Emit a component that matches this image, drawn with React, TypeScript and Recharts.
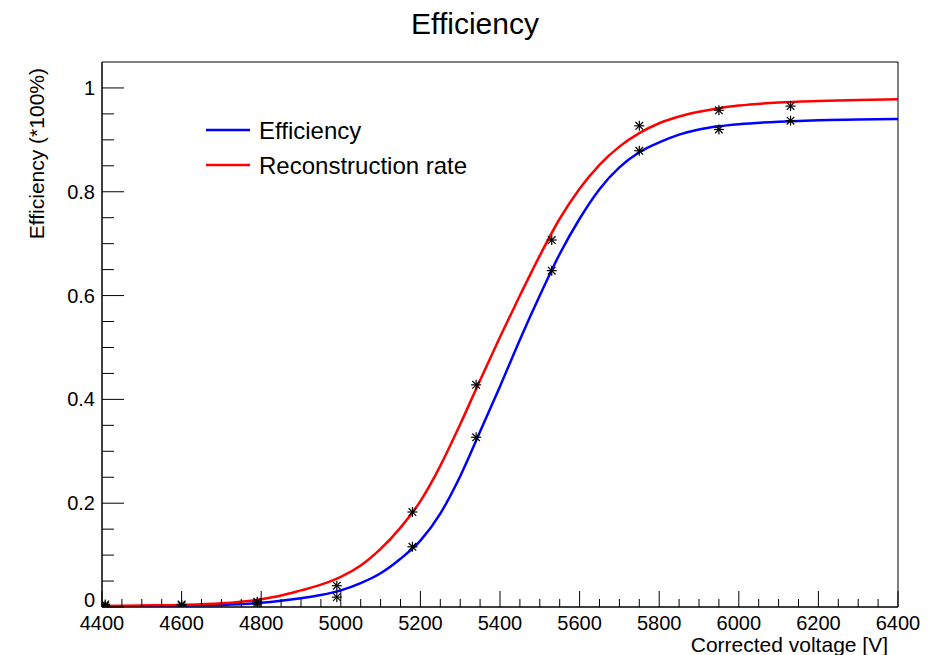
import { ComposedChart, Line, Scatter, XAxis, YAxis, ReferenceArea } from 'recharts';

// fitted curves
const effCurve = [
  { v: 4500, y: 0.002 }, { v: 4600, y: 0.003 }, { v: 4700, y: 0.004 }, { v: 4800, y: 0.008 },
  { v: 4850, y: 0.012 }, { v: 4900, y: 0.017 }, { v: 4950, y: 0.023 }, { v: 5000, y: 0.032 },
  { v: 5050, y: 0.046 }, { v: 5100, y: 0.065 }, { v: 5150, y: 0.093 }, { v: 5200, y: 0.128 },
  { v: 5250, y: 0.18 }, { v: 5300, y: 0.252 }, { v: 5350, y: 0.338 }, { v: 5400, y: 0.425 },
  { v: 5450, y: 0.515 }, { v: 5500, y: 0.6 }, { v: 5550, y: 0.68 }, { v: 5600, y: 0.748 },
  { v: 5650, y: 0.805 }, { v: 5700, y: 0.847 }, { v: 5750, y: 0.876 }, { v: 5800, y: 0.895 },
  { v: 5850, y: 0.91 }, { v: 5900, y: 0.92 }, { v: 5950, y: 0.926 }, { v: 6000, y: 0.93 },
  { v: 6100, y: 0.935 }, { v: 6200, y: 0.938 }, { v: 6300, y: 0.939 }, { v: 6400, y: 0.94 },
];

const recoCurve = [
  { v: 4400, y: 0.002 }, { v: 4500, y: 0.003 }, { v: 4600, y: 0.004 }, { v: 4700, y: 0.007 },
  { v: 4800, y: 0.015 }, { v: 4850, y: 0.022 }, { v: 4900, y: 0.032 }, { v: 4950, y: 0.043 },
  { v: 5000, y: 0.058 }, { v: 5050, y: 0.08 }, { v: 5100, y: 0.112 }, { v: 5150, y: 0.153 },
  { v: 5200, y: 0.204 }, { v: 5250, y: 0.272 }, { v: 5300, y: 0.352 }, { v: 5350, y: 0.437 },
  { v: 5400, y: 0.52 }, { v: 5450, y: 0.6 }, { v: 5500, y: 0.677 }, { v: 5550, y: 0.748 },
  { v: 5600, y: 0.806 }, { v: 5650, y: 0.852 }, { v: 5700, y: 0.887 }, { v: 5750, y: 0.913 },
  { v: 5800, y: 0.932 }, { v: 5850, y: 0.945 }, { v: 5900, y: 0.954 }, { v: 5950, y: 0.961 },
  { v: 6000, y: 0.966 }, { v: 6100, y: 0.972 }, { v: 6200, y: 0.975 }, { v: 6300, y: 0.977 },
  { v: 6400, y: 0.978 },
];

// measured points (black stars)
const effPoints = [
  { v: 4408, y: 0.002 }, { v: 4600, y: 0.003 }, { v: 4790, y: 0.006 }, { v: 4990, y: 0.019 },
  { v: 5180, y: 0.116 }, { v: 5340, y: 0.327 }, { v: 5530, y: 0.648 }, { v: 5750, y: 0.879 },
  { v: 5950, y: 0.92 }, { v: 6130, y: 0.937 },
];

const recoPoints = [
  { v: 4408, y: 0.005 }, { v: 4600, y: 0.005 }, { v: 4790, y: 0.01 }, { v: 4990, y: 0.041 },
  { v: 5180, y: 0.183 }, { v: 5340, y: 0.428 }, { v: 5530, y: 0.707 }, { v: 5750, y: 0.927 },
  { v: 5950, y: 0.957 }, { v: 6130, y: 0.965 },
];

const X_TICKS = [
  4400, 4450, 4500, 4550, 4600, 4650, 4700, 4750, 4800, 4850, 4900, 4950, 5000, 5050,
  5100, 5150, 5200, 5250, 5300, 5350, 5400, 5450, 5500, 5550, 5600, 5650, 5700, 5750,
  5800, 5850, 5900, 5950, 6000, 6050, 6100, 6150, 6200, 6250, 6300, 6350, 6400,
];
const X_LABELS = [4400, 4600, 4800, 5000, 5200, 5400, 5600, 5800, 6000, 6200, 6400];

const Y_TICKS = [
  0, 0.05, 0.1, 0.15, 0.2, 0.25, 0.3, 0.35, 0.4, 0.45, 0.5,
  0.55, 0.6, 0.65, 0.7, 0.75, 0.8, 0.85, 0.9, 0.95, 1,
];
const Y_LABELS = [0, 0.2, 0.4, 0.6, 0.8, 1];

const FONT = '"Liberation Sans", Arial, Helvetica, sans-serif';
const W = 939;
const H = 655;

const XTick = (props: any) => {
  const { x, y, payload } = props;
  const major = X_LABELS.includes(payload.value);
  return (
    <g>
      <line x1={x} y1={y} x2={x} y2={y - (major ? 16 : 8)} stroke="#000" strokeWidth={1} />
      {major && (
        <text x={x} y={y + 23} textAnchor="middle" fontSize={20} fontFamily={FONT} fill="#000">
          {payload.value}
        </text>
      )}
    </g>
  );
};

const YTick = (props: any) => {
  const { x, y, payload } = props;
  const major = Y_LABELS.includes(payload.value);
  // the "0" label sits a little higher so it clears the x labels
  const dy = payload.value === 0 ? 0 : 7;
  return (
    <g>
      <line x1={x} y1={y} x2={x + (major ? 22 : 12)} y2={y} stroke="#000" strokeWidth={1} />
      {major && (
        <text x={x - 7} y={y + dy} textAnchor="end" fontSize={20} fontFamily={FONT} fill="#000">
          {String(payload.value)}
        </text>
      )}
    </g>
  );
};

const Star = (props: any) => {
  const { cx, cy } = props;
  const r = 5;
  const d = 3.8;
  return (
    <g stroke="#000" strokeWidth={1.2}>
      <line x1={cx - r} y1={cy} x2={cx + r} y2={cy} />
      <line x1={cx} y1={cy - r} x2={cx} y2={cy + r} />
      <line x1={cx - d} y1={cy - d} x2={cx + d} y2={cy + d} />
      <line x1={cx - d} y1={cy + d} x2={cx + d} y2={cy - d} />
    </g>
  );
};

export default function App() {
  return (
    <div style={{ position: 'absolute', left: 0, top: 0, width: W, height: H, background: '#fff' }}>
      <ComposedChart width={W} height={H} margin={{ top: 62, right: 41, bottom: 0, left: 0 }}>
        <XAxis
          type="number"
          dataKey="v"
          domain={[4400, 6400]}
          ticks={X_TICKS}
          interval={0}
          height={48}
          tickSize={0}
          tickMargin={0}
          tickLine={false}
          tick={<XTick />}
          axisLine={{ stroke: '#000' }}
          allowDataOverflow
        />
        <YAxis
          type="number"
          domain={[0, 1.05]}
          ticks={Y_TICKS}
          interval={0}
          width={102}
          tickSize={0}
          tickMargin={0}
          tickLine={false}
          tick={<YTick />}
          axisLine={{ stroke: '#000' }}
          allowDataOverflow
        />
        <ReferenceArea x1={4400} x2={6400} y1={0} y2={1.05} fill="none" stroke="#000" strokeWidth={1} ifOverflow="visible" />
        <Line data={effCurve} dataKey="y" type="monotone" stroke="#0000ff" strokeWidth={2.5} dot={false} isAnimationActive={false} />
        <Line data={recoCurve} dataKey="y" type="monotone" stroke="#ff0000" strokeWidth={2.5} dot={false} isAnimationActive={false} />
        <Scatter data={effPoints} dataKey="y" shape={<Star />} isAnimationActive={false} />
        <Scatter data={recoPoints} dataKey="y" shape={<Star />} isAnimationActive={false} />
      </ComposedChart>
      <svg width={W} height={H} style={{ position: 'absolute', left: 0, top: 0, pointerEvents: 'none' }}>
        <text x={475} y={34} textAnchor="middle" fontSize={30} fontFamily={FONT} fill="#000">Efficiency</text>
        <text x={888} y={652} textAnchor="end" fontSize={21} fontFamily={FONT} fill="#000">Corrected voltage [V]</text>
        <text x={44} y={68} textAnchor="end" fontSize={21} fontFamily={FONT} fill="#000" transform="rotate(-90 44 68)">
          Efficiency (*100%)
        </text>
        <line x1={206} y1={130} x2={250} y2={130} stroke="#0000ff" strokeWidth={2.5} />
        <text x={259} y={139} fontSize={24} fontFamily={FONT} fill="#000">Efficiency</text>
        <line x1={206} y1={165} x2={250} y2={165} stroke="#ff0000" strokeWidth={2.5} />
        <text x={259} y={174} fontSize={24} fontFamily={FONT} fill="#000">Reconstruction rate</text>
      </svg>
    </div>
  );
}
